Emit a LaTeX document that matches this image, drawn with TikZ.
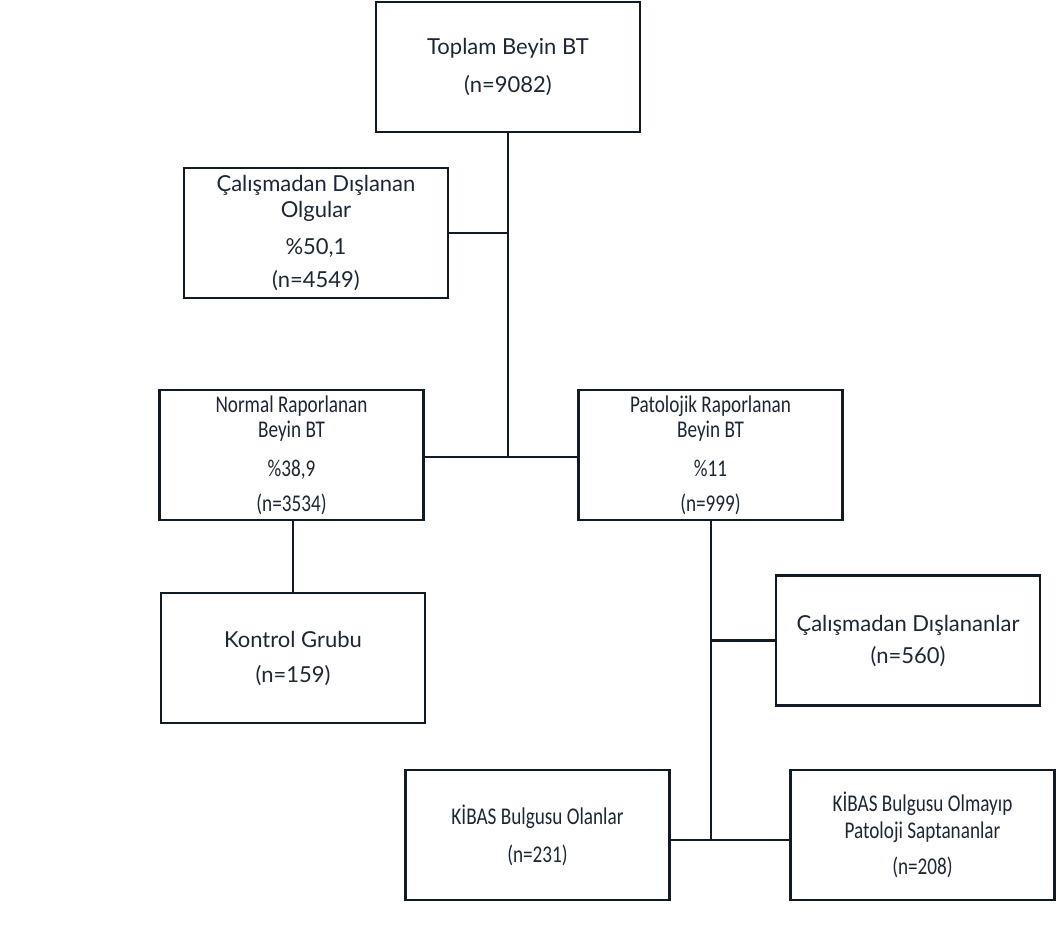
\documentclass[tikz,border=0pt]{standalone}
\usepackage{fontspec}
\setmainfont{Lato}
\newfontfamily\narrowfont[FakeStretch=0.8]{Carlito}
\usepackage{tikz}

\definecolor{boxline}{HTML}{101B27}
\definecolor{boxtext}{HTML}{1C2636}

\begin{document}
\begin{tikzpicture}[x=1pt, y=-1pt, line width=2.8pt,
                    box/.style={draw=boxline, rectangle, align=center, text=boxtext,
                        minimum width=264pt, minimum height=130pt, inner sep=0pt,
                        font=\fontsize{22}{26}\selectfont},
                    narrow/.style={font=\narrowfont\fontsize{24}{25}\selectfont},
                    link/.style={draw=boxline, line width=2.8pt}]
                    \useasboundingbox (0,0) rectangle (1056,942);

                    \node[box] (toplam) at (508,67) {Toplam Beyin BT\\[12pt](n=9082)};
                    \node[box] (dislanan) at (316,233) {Çalışmadan Dışlanan\\Olgular\\[11pt]\%50,1\\[7pt](n=4549)};
                    \node[box] [narrow] (normal) at (291.5,455) {Normal Raporlanan\\Beyin BT\\[14pt]\%38,9\\[10pt](n=3534)};
                    \node[box] [narrow] (patolojik) at (710.5,455) {Patolojik Raporlanan\\Beyin BT\\[14pt]\%11\\[10pt](n=999)};
                    \node[box] (kontrol) at (293,658) {Kontrol Grubu\\[9pt](n=159)};
                    \node[box] (dislananlar) at (908,640.5) {Çalışmadan Dışlananlar\\[6pt](n=560)};
                    \node[box] [narrow] (kibasvar) at (537.5,835) {KİBAS Bulgusu Olanlar\\[13pt](n=231)};
                    \node[box] [narrow] (kibasyok) at (922.5,835) {KİBAS Bulgusu Olmayıp\\[2pt]Patoloji Saptananlar\\[11pt](n=208)};

                    \coordinate (orta) at (508,457);
                    \coordinate (alt) at (711,840);

                    \draw[link] (toplam.south) -- (orta);
                    \draw[link] (dislanan.east) -- (dislanan.east -| toplam.south);
                    \draw[link] (normal.east |- orta) -- (orta) -- (patolojik.west |- orta);
                    \draw[link] (normal.south -| kontrol.north) -- (kontrol.north);
                    \draw[link] (patolojik.south -| alt) -- (alt);
                    \draw[link] (dislananlar.west) -- (dislananlar.west -| alt);
                    \draw[link] (kibasvar.east |- alt) -- (kibasyok.west |- alt);
                \end{tikzpicture}
\end{document}
